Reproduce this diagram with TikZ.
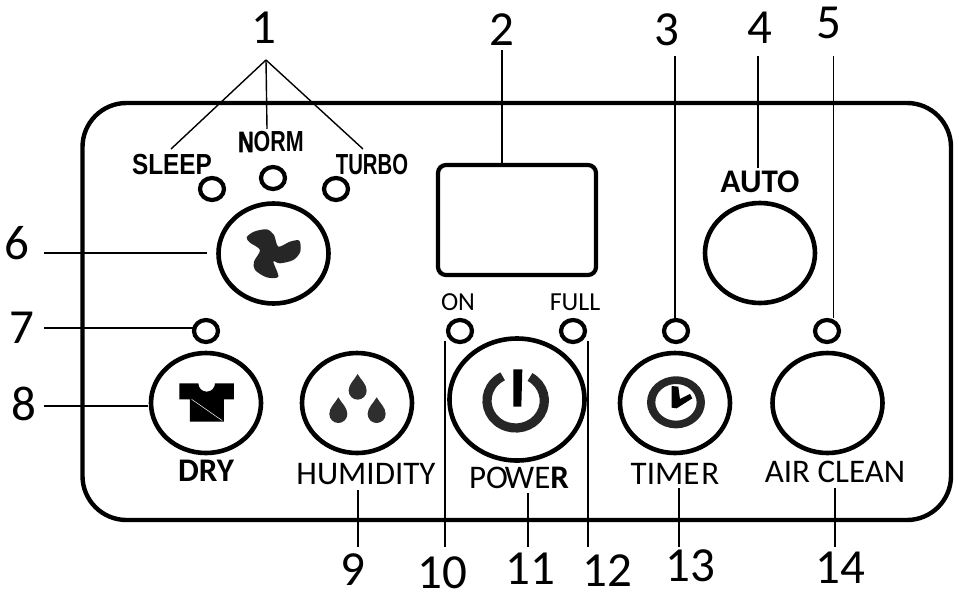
\documentclass[tikz,border=0pt]{standalone}
\usepackage{fontspec}
\setmainfont{Carlito}
\newfontfamily\narrowf{Liberation Sans}[BoldFont={Liberation Sans Bold}]
\newfontfamily\heavyf{Liberation Sans Bold}[FakeBold=2]
\usetikzlibrary{shapes.geometric}
\tikzset{
  btn/.style={draw=black,line width=4.6pt,ellipse,inner sep=0pt,minimum width=#1},
  btnS/.style={btn=110pt,minimum height=100pt},
  led/.style={draw=black,line width=4.2pt,ellipse,inner sep=0pt,minimum width=24pt,minimum height=22pt},
  leader/.style={draw=black,line width=1.4pt},
  num/.style={inner sep=0pt,font=\fontsize{49}{49}\selectfont},
  lab/.style={inner sep=0pt,font=\fontsize{33}{33}\selectfont},
  labb/.style={inner sep=0pt,font=\fontsize{33}{33}\selectfont\bfseries},
  small/.style={inner sep=0pt,font=\fontsize{26}{26}\selectfont},
  cond/.style={inner sep=0pt,font=\narrowf\bfseries\fontsize{29}{29}\selectfont}
}
\begin{document}
\begin{tikzpicture}[x=1pt,y=-1pt]
\useasboundingbox (0,0) rectangle (957,592);
% panel
\draw[line width=4.4pt,rounded corners=44pt] (82.5,103) rectangle (951,520);
% display
\node[draw=black,line width=4.2pt,rounded corners=8pt,inner sep=0pt,minimum width=158pt,minimum height=110pt] (disp) at (517,220) {};
% numbers
\node[num] (n1) at (264,28) {1};
\node[num] (n2) at (502,30) {2};
\node[num] (n3) at (667,30) {3};
\node[num] (n4) at (760,28) {4};
\node[num] (n5) at (829,23) {5};
\node[num] (n6) at (17,243) {6};
\node[num] (n7) at (22,328) {7};
\node[num] (n8) at (24,404) {8};
\node[num] (n9) at (353,570) {9};
\node[num] (n10) at (442,573) {10};
\node[num] (n11) at (530,569) {11};
\node[num] (n12) at (607,571) {12};
\node[num] (n13) at (690,566) {13};
\node[num] (n14) at (840,568) {14};
% buttons
\node[btnS] (fan) at (273.5,253.5) {};
\node[btnS] (auto) at (760,253) {};
\node[btnS] (dry) at (206,403) {};
\node[btnS] (hum) at (357,403) {};
\node[btnS] (timer) at (675,403) {};
\node[btnS] (air) at (827.5,403) {};
\node[btn=135pt,minimum height=122pt] (power) at (517,399.5) {};
% leds
\node[led] (lsleep) at (212,189) {};
\node[led] (lnorm) at (273,178) {};
\node[led] (lturbo) at (336,189) {};
\node[led] (ldry) at (206,331) {};
\node[led] (lon) at (460,331) {};
\node[led] (lfull) at (573,331) {};
\node[led] (ltimer) at (676,331) {};
\node[led] (lair) at (827,331) {};
% labels
\node[cond] (tsleep) at (172,165) {\scalebox{.84}[1]{SLEEP}};
\node[cond] (tnorm) at (271,142) {\scalebox{.74}[1]{{\heavyf N}ORM}};
\node[cond] (tturbo) at (372,165) {\scalebox{.70}[1]{TURBO}};
\node[labb] (tauto) at (760,182) {AUTO};
\node[labb] (tdry) at (206,471) {DRY};
\node[lab] (thum) at (366,474) {HUMIDITY};
\node[lab] (tpower) at (519,478) {PO\kern-3ptWE{\bfseries R}};
\node[lab] (ttimer) at (675,474) {TIME\kern2pt R};
\node[lab] (tair) at (835,472) {AIR CLEAN};
\node[small] (ton) at (458,302) {ON};
\node[small] (tfull) at (575,302) {FULL};
% leader ends
\coordinate (hub) at (266,60);
\coordinate (e1a) at (171,149);
\coordinate (e1b) at (267,129);
\coordinate (e1c) at (363,149);
\coordinate (s2) at (502,50);
\coordinate (s3) at (675,56);
\coordinate (e3) at (675,319);
\coordinate (s4) at (758,56);
\coordinate (e4) at (758,168);
\coordinate (s5) at (833.5,56);
\coordinate (e5) at (833.5,318);
\coordinate (s6) at (44,253);
\coordinate (e6) at (207,253);
\coordinate (s7) at (44,328);
\coordinate (e7) at (193,328);
\coordinate (s8) at (44,406);
\coordinate (e8) at (148,406);
\coordinate (a9) at (358,490);
\coordinate (b9) at (358,547);
\coordinate (a10) at (445,341);
\coordinate (b10) at (445,547);
\coordinate (a11) at (528,493);
\coordinate (b11) at (528,547);
\coordinate (a12) at (588,341);
\coordinate (b12) at (588,547);
\coordinate (a13) at (679,488);
\coordinate (b13) at (679,547);
\coordinate (a14) at (835,488);
\coordinate (b14) at (835,547);
\draw[leader] (hub) -- (e1a);
\draw[leader] (hub) -- (e1b);
\draw[leader] (hub) -- (e1c);
\draw[leader] (s2) -- (disp.north -| s2);
\draw[leader] (s3) -- (e3);
\draw[leader] (s4) -- (e4);
\draw[leader] (s5) -- (e5);
\draw[leader] (s6) -- (e6);
\draw[leader] (s7) -- (e7);
\draw[leader] (s8) -- (e8);
\draw[leader] (a9) -- (b9);
\draw[leader] (a10) -- (b10);
\draw[leader] (a11) -- (b11);
\draw[leader] (a12) -- (b12);
\draw[leader] (a13) -- (b13);
\draw[leader] (a14) -- (b14);
% fan icon
\begin{scope}[shift={(120,120)},x=.3333pt,y=-.3333pt]
\fill[fill=black!85] plot[smooth cycle,tension=.5] coordinates {(380,352)(402,335)(440,328)(462,345)(475,380)(510,365)(538,362)(541,395)(520,420)(480,430)(460,425)(475,470)(440,472)(405,450)(402,425)(420,390)(390,368)};
\end{scope}
% shirt icon
\begin{scope}[shift={(130,310)},x=.3333pt,y=-.3333pt]
\fill[black] (148,220) -- (205,220) arc[start angle=180,end angle=360,x radius=25,y radius=-25] -- (312,220) -- (312,268) -- (282,268) -- (282,335) -- (180,335) -- (180,268) -- (148,268) -- cycle;
\draw[white,line width=.5pt] (185,268) -- (277,332);
% drops
\foreach \x/\y in {683/192,625/262,740/262}{
\fill[black!82] (\x,\y) .. controls (\x+10,\y+18) and (\x+27,\y+30) .. (\x+27,\y+50) arc[start angle=0,end angle=180,x radius=27,y radius=27] .. controls (\x-27,\y+30) and (\x-10,\y+18) .. (\x,\y) -- cycle;
}
\end{scope}
% power and clock icons
\begin{scope}[shift={(430,280)},x=.3333pt,y=-.3333pt]
\draw[black!85,line width=9.2pt] (300,291) arc[start angle=60,end angle=-243,x radius=86,y radius=-82];
\fill[black] (250,268) -- (277,268) -- (274,380) -- (250,380) -- cycle;
\fill[black!85,even odd rule] (738,367) ellipse[x radius=87,y radius=78] (738,367) ellipse[x radius=62,y radius=55];
\fill[black] (725,318) -- (745,320) -- (750,357) -- (780,342) -- (787,355) -- (740,385) -- (725,383) -- cycle;
\end{scope}
\end{tikzpicture}
\end{document}
